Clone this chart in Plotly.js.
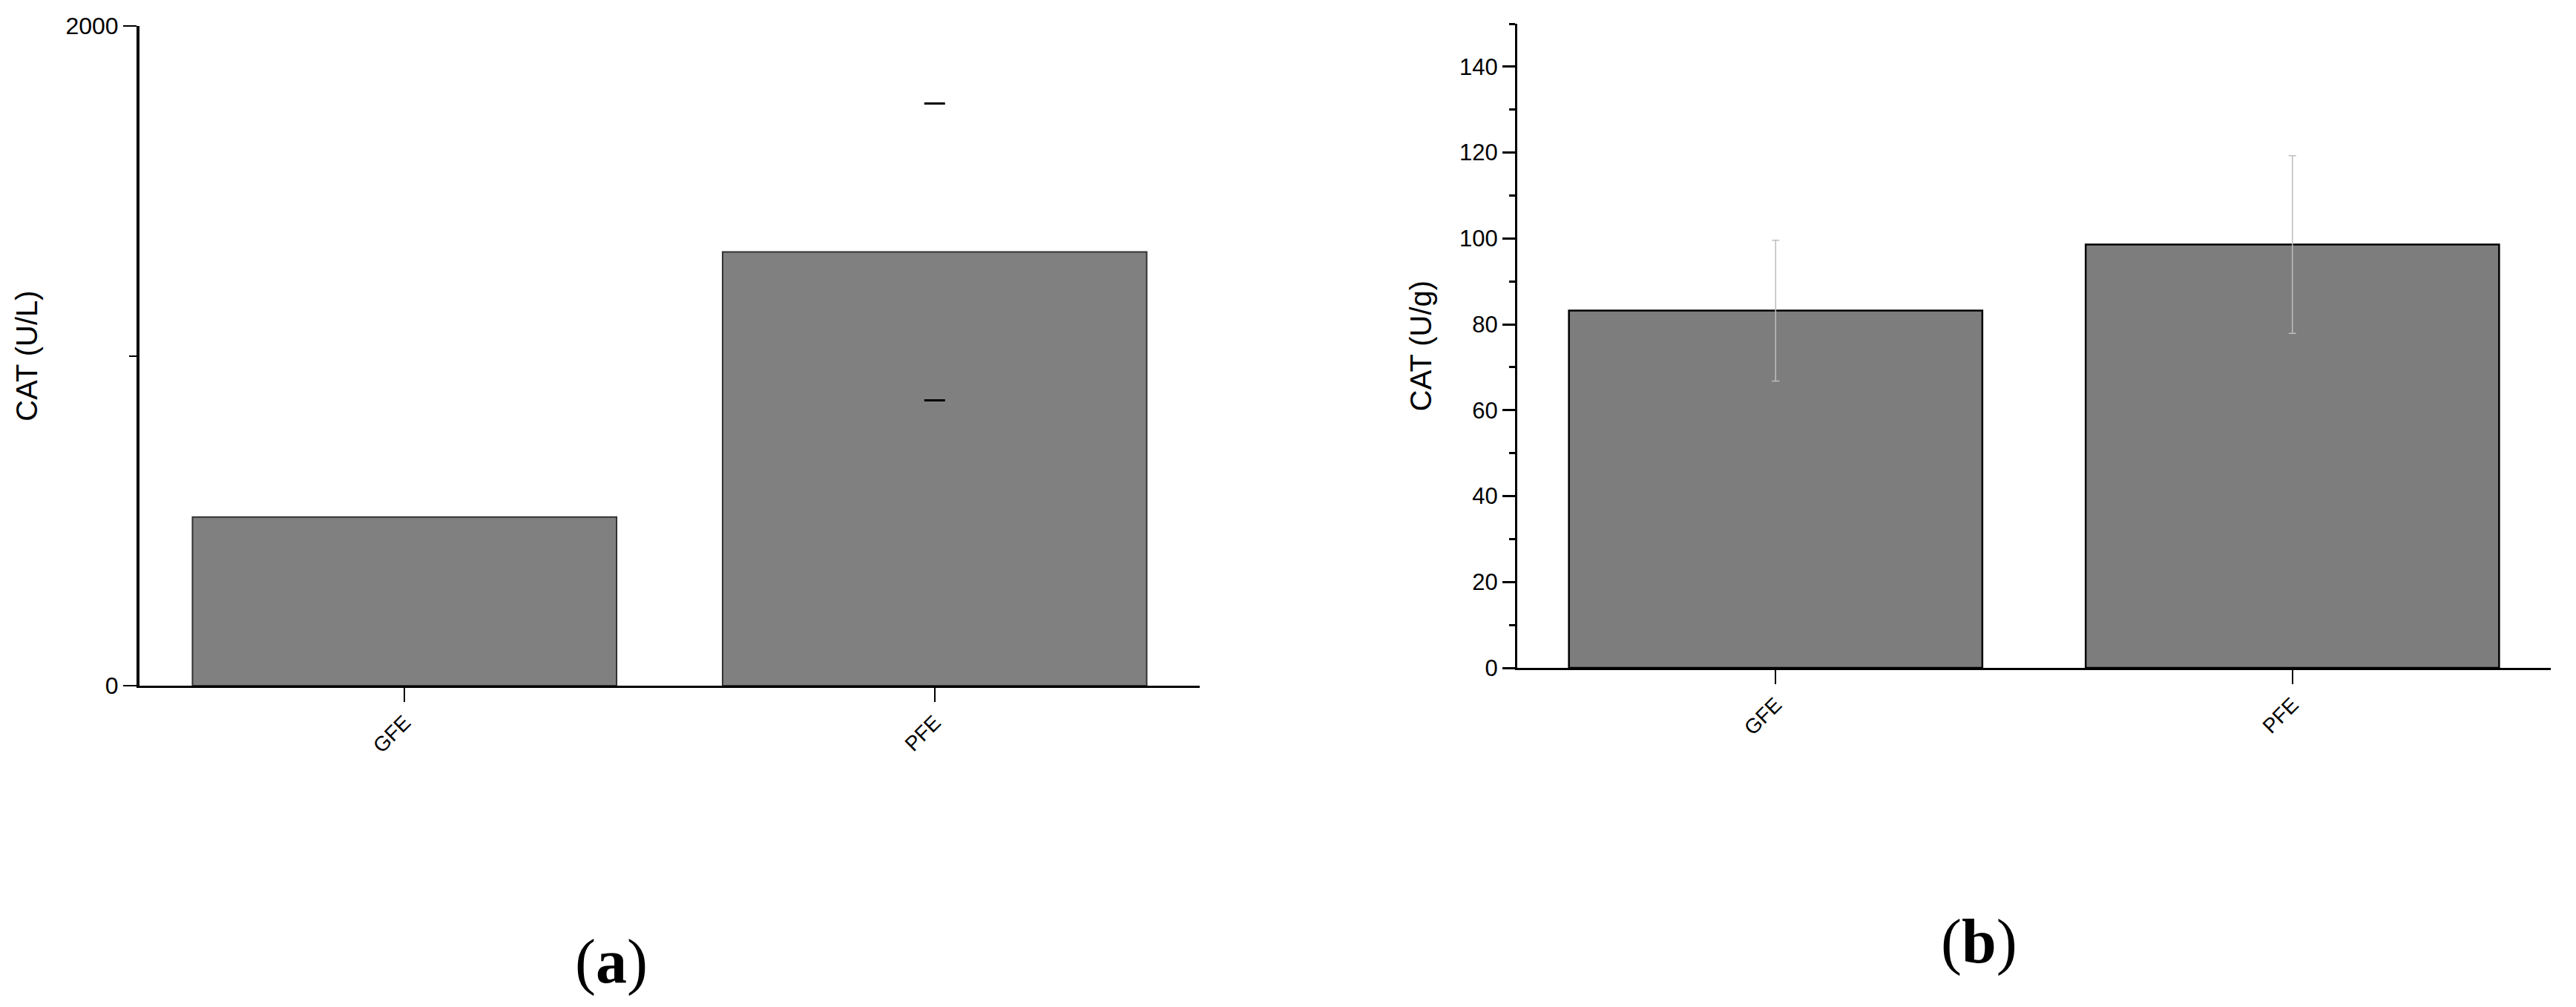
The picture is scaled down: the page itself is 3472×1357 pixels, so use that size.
<!DOCTYPE html>
<html>
<head>
<meta charset="utf-8">
<script src="https://cdn.plot.ly/plotly-3.0.1.min.js"></script>
<style>
  html, body { margin: 0; padding: 0; background: #ffffff; }
  #chart { width: 3472px; height: 1357px; }
</style>
</head>
<body>
<div id="chart"></div>
<script>
// ---- Data ----
const categories = ["GFE", "PFE"];

// Panel (a): CAT (U/L)
const meanA = [511, 1315];
const sdA = [null, 450];

// Panel (b): CAT (U/g)
const meanB = [83.2, 98.6];
const sdB = [16.4, 20.7];

const yTicksA = [0, 2000];
const yMinorA = [1000];
const yTicksB = [0, 20, 40, 60, 80, 100, 120, 140];

const titleA = "CAT (U/L)";
const titleB = "CAT (U/g)";
const panelLabels = ["(<b>a</b>)", "(<b>b</b>)"];

// ---- Helpers ----
const W = 3472, H = 1357;
const px = v => v / W;
const py = v => 1 - v / H;

const capsA = { x: [], y: [] };
categories.forEach((c, i) => {
  if (sdA[i] != null) {
    capsA.x.push(c, c);
    capsA.y.push(meanA[i] + sdA[i], meanA[i] - sdA[i]);
  }
});

const sansFont = "Liberation Sans, Arial, sans-serif";

const traces = [
  {
    type: "bar",
    x: categories,
    y: meanA,
    xaxis: "x",
    yaxis: "y",
    width: 0.8,
    marker: { color: "rgb(128,128,128)", line: { color: "rgb(50,50,50)", width: 2 } },
    showlegend: false,
    hoverinfo: "x+y"
  },
  {
    type: "scatter",
    mode: "markers",
    x: capsA.x,
    y: capsA.y,
    xaxis: "x",
    yaxis: "y",
    marker: { symbol: "line-ew", size: 20, color: "#000", line: { color: "#000", width: 3 } },
    showlegend: false,
    hoverinfo: "y"
  },
  {
    type: "bar",
    x: categories,
    y: meanB,
    xaxis: "x2",
    yaxis: "y2",
    width: 0.8,
    marker: { color: "rgb(125,125,125)", line: { color: "#000", width: 2.5 } },
    error_y: { type: "data", array: sdB, visible: true, color: "rgb(190,190,190)", thickness: 1.5, width: 5 },
    showlegend: false,
    hoverinfo: "x+y"
  }
];

const commonX = {
  type: "category",
  range: [-0.5, 1.5],
  showline: true,
  linecolor: "#000",
  linewidth: 3,
  ticks: "outside",
  ticklen: 19,
  tickwidth: 2,
  tickcolor: "#000",
  tickangle: -45,
  tickfont: { family: sansFont, size: 28, color: "#000" },
  showgrid: false,
  zeroline: false,
  fixedrange: true
};

const layout = {
  width: W,
  height: H,
  margin: { l: 0, r: 0, t: 0, b: 0, pad: 0 },
  paper_bgcolor: "#ffffff",
  plot_bgcolor: "#ffffff",
  font: { family: sansFont, color: "#000" },
  showlegend: false,
  bargap: 0.2,
  xaxis: Object.assign({}, commonX, {
    domain: [px(188), px(1617)],
    anchor: "y"
  }),
  yaxis: {
    domain: [py(924), py(35)],
    anchor: "x",
    range: [0, 2000],
    showline: true,
    linecolor: "#000",
    linewidth: 4,
    tickmode: "array",
    tickvals: yTicksA,
    ticktext: yTicksA.map(String),
    ticks: "outside",
    ticklen: 18,
    tickwidth: 2,
    tickcolor: "#000",
    minor: { tickmode: "array", tickvals: yMinorA, ticks: "outside", ticklen: 10, tickwidth: 2, tickcolor: "#000", showgrid: false },
    tickfont: { family: sansFont, size: 32, color: "#000" },
    showgrid: false,
    zeroline: false,
    title: { text: titleA, font: { family: sansFont, size: 40, color: "#000" }, standoff: 26 }
  },
  xaxis2: Object.assign({}, commonX, {
    domain: [px(2045), px(3438)],
    anchor: "y2"
  }),
  yaxis2: {
    domain: [py(900), py(32)],
    anchor: "x2",
    range: [0, 150],
    showline: true,
    linecolor: "#000",
    linewidth: 3,
    tickmode: "array",
    tickvals: yTicksB,
    ticktext: yTicksB.map(String),
    ticks: "outside",
    ticklen: 17,
    tickwidth: 3,
    tickcolor: "#000",
    minor: { dtick: 10, tick0: 0, ticks: "outside", ticklen: 8, tickwidth: 3, tickcolor: "#000", showgrid: false },
    tickfont: { family: sansFont, size: 31, color: "#000" },
    showgrid: false,
    zeroline: false,
    title: { text: titleB, font: { family: sansFont, size: 40, color: "#000" }, standoff: 26 }
  },
  annotations: [
    {
      text: panelLabels[0],
      xref: "paper", yref: "paper",
      x: px(824), y: py(1296),
      xanchor: "center", yanchor: "middle",
      showarrow: false,
      font: { family: "Liberation Serif, Times New Roman, serif", size: 84, color: "#000" }
    },
    {
      text: panelLabels[1],
      xref: "paper", yref: "paper",
      x: px(2667), y: py(1269),
      xanchor: "center", yanchor: "middle",
      showarrow: false,
      font: { family: "Liberation Serif, Times New Roman, serif", size: 84, color: "#000" }
    }
  ]
};

Plotly.newPlot("chart", traces, layout, { displayModeBar: false, staticPlot: true });
</script>
</body>
</html>
